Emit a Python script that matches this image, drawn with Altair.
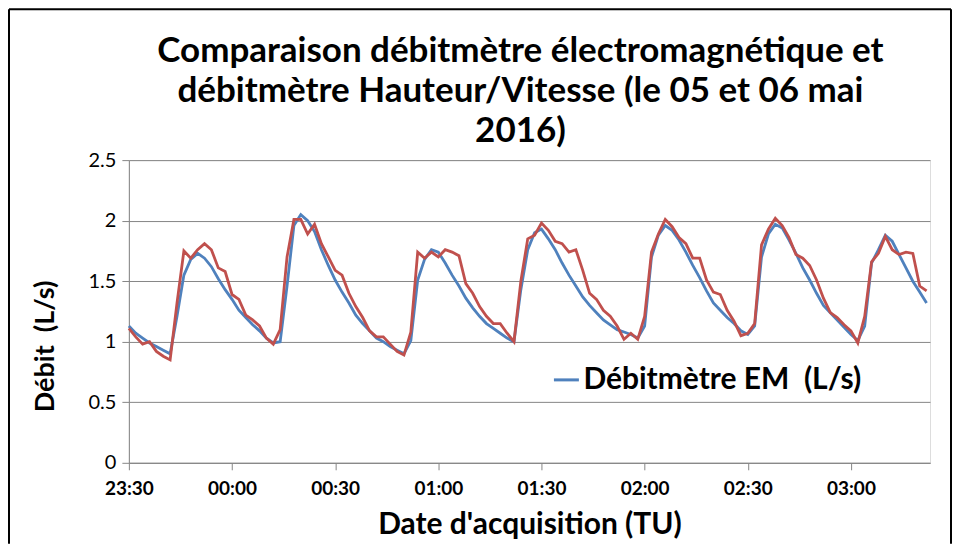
import altair as alt
import pandas as pd

# ---- data (sampling every 2 minutes from 23:30) ----
step_min = 2
em_values = [
    1.13, 1.07, 1.03, 0.99, 0.96, 0.93, 0.90, 1.21, 1.55, 1.68,
    1.73, 1.69, 1.62, 1.52, 1.43, 1.35, 1.26, 1.20, 1.14, 1.09,
    1.03, 0.99, 1.00, 1.46, 1.96, 2.05, 2.00, 1.91, 1.76, 1.63,
    1.51, 1.41, 1.32, 1.22, 1.15, 1.09, 1.03, 1.00, 0.96, 0.93,
    0.90, 1.01, 1.51, 1.68, 1.76, 1.74, 1.65, 1.55, 1.46, 1.36,
    1.28, 1.21, 1.15, 1.11, 1.07, 1.03, 1.00, 1.43, 1.76, 1.90,
    1.93, 1.85, 1.76, 1.65, 1.55, 1.46, 1.37, 1.30, 1.24, 1.18,
    1.14, 1.10, 1.08, 1.06, 1.03, 1.13, 1.70, 1.88, 1.96, 1.92,
    1.84, 1.74, 1.63, 1.53, 1.42, 1.32, 1.26, 1.20, 1.15, 1.09,
    1.06, 1.13, 1.70, 1.89, 1.97, 1.94, 1.84, 1.73, 1.61, 1.51,
    1.40, 1.30, 1.24, 1.18, 1.12, 1.06, 1.01, 1.13, 1.65, 1.76,
    1.88, 1.83, 1.72, 1.61, 1.50, 1.41, 1.32,
]
hv_values = [
    1.11, 1.04, 0.98, 1.00, 0.92, 0.88, 0.85, 1.32, 1.75, 1.69,
    1.76, 1.81, 1.76, 1.61, 1.58, 1.39, 1.35, 1.22, 1.18, 1.13,
    1.03, 0.98, 1.10, 1.70, 2.01, 2.01, 1.89, 1.97, 1.81, 1.70,
    1.59, 1.55, 1.40, 1.29, 1.20, 1.09, 1.04, 1.04, 0.98, 0.92,
    0.89, 1.08, 1.74, 1.69, 1.74, 1.70, 1.76, 1.74, 1.71, 1.48,
    1.40, 1.29, 1.21, 1.15, 1.15, 1.07, 1.00, 1.50, 1.85, 1.88,
    1.98, 1.92, 1.83, 1.81, 1.74, 1.76, 1.59, 1.40, 1.35, 1.26,
    1.21, 1.13, 1.02, 1.07, 1.02, 1.21, 1.74, 1.89, 2.01, 1.95,
    1.86, 1.81, 1.69, 1.69, 1.51, 1.41, 1.39, 1.26, 1.17, 1.05,
    1.07, 1.15, 1.80, 1.93, 2.02, 1.96, 1.86, 1.72, 1.69, 1.63,
    1.51, 1.36, 1.24, 1.20, 1.14, 1.09, 0.99, 1.21, 1.66, 1.73,
    1.87, 1.76, 1.72, 1.74, 1.73, 1.46, 1.42,
]
series_names = ["Débitmètre EM \u00a0(L/s)", "Débitmètre H/V \u00a0(L/s)"]
series_colors = ["#4F81BD", "#C0504D"]
tick_minutes = [0, 30, 60, 90, 120, 150, 180, 210]
tick_labels = ["23:30", "00:00", "00:30", "01:00", "01:30", "02:00", "02:30", "03:00"]
x_end_minute = 233
y_ticks = [0, 0.5, 1, 1.5, 2, 2.5]
title_lines = [
    "Comparaison débitmètre électromagnétique et",
    "débitmètre Hauteur/Vitesse (le 05 et 06 mai",
    "2016)",
]

minutes = [i * step_min for i in range(len(em_values))]
df = pd.DataFrame(
    {
        "minute": minutes * 2,
        "debit": em_values + hv_values,
        "series": [series_names[0]] * len(em_values) + [series_names[1]] * len(hv_values),
    }
)

W, H = 802, 303
FONT = "Lato"

label_expr = (
    "[" + ",".join("'" + s + "'" for s in tick_labels) + "]"
    + "[indexof([" + ",".join(str(m) for m in tick_minutes) + "], datum.value)]"
)

x_enc = alt.X(
    "minute:Q",
    scale=alt.Scale(domain=[0, x_end_minute], nice=False, zero=False),
    axis=alt.Axis(
        values=tick_minutes,
        labelExpr=label_expr,
        labelFlush=False,
        title="Date d'acquisition (TU)",
        grid=False,
        domainColor="#868686",
        tickColor="#868686",
        tickSize=7,
        labelFont=FONT,
        labelFontSize=19,
        labelFontWeight="bold",
        labelColor="#000000",
        labelPadding=10,
        titleFont=FONT,
        titleFontSize=30,
        titleFontWeight="bold",
        titleColor="#000000",
        titlePadding=11,
    ),
)
y_enc = alt.Y(
    "debit:Q",
    scale=alt.Scale(domain=[0, 2.5], nice=False),
    axis=alt.Axis(
        values=y_ticks,
        format=".1~f",
        title="Débit \u00a0(L/s)",
        grid=True,
        gridColor="#868686",
        domainColor="#868686",
        tickColor="#868686",
        tickSize=7,
        labelFont=FONT,
        labelFontSize=20,
        labelColor="#000000",
        labelPadding=6,
        titleFont=FONT,
        titleFontSize=27,
        titleFontWeight="bold",
        titleColor="#000000",
        titlePadding=29,
        titleY=186,
    ),
)
color_enc = alt.Color(
    "series:N",
    scale=alt.Scale(domain=series_names, range=series_colors),
    legend=alt.Legend(
        values=[series_names[0]],
        orient="none",
        legendX=423,
        legendY=205,
        title=None,
        symbolType="stroke",
        symbolSize=625,
        symbolStrokeWidth=3,
        labelFont=FONT,
        labelFontSize=30,
        labelFontWeight="bold",
        labelColor="#000000",
        labelOffset=2,
        labelLimit=500,
        padding=0,
    ),
)

base = alt.Chart(df)
em_line = base.transform_filter(alt.datum.series == series_names[0]).mark_line(strokeWidth=2.8).encode(
    x=x_enc, y=y_enc, color=color_enc
)
hv_line = base.transform_filter(alt.datum.series == series_names[1]).mark_line(strokeWidth=2.8).encode(
    x=x_enc, y=y_enc, color=color_enc
)

frame_data = alt.Data(values=[{}])
frame_left = alt.Chart(frame_data).mark_rule(color="black", strokeWidth=2).encode(
    x=alt.value(-120), y=alt.value(-151), y2=alt.value(384)
)
frame_top = alt.Chart(frame_data).mark_rule(color="black", strokeWidth=2).encode(
    x=alt.value(-120), x2=alt.value(823), y=alt.value(-151)
)
frame_right = alt.Chart(frame_data).mark_rule(color="black", strokeWidth=2).encode(
    x=alt.value(823), y=alt.value(-151), y2=alt.value(384)
)

chart = (
    alt.layer(em_line, hv_line, frame_left, frame_top, frame_right)
    .properties(
        width=W,
        height=H,
        padding=0,
        title=alt.TitleParams(
            text=title_lines,
            font=FONT,
            fontSize=35,
            fontWeight="bold",
            color="#000000",
            lineHeight=40,
            anchor="middle",
            offset=-141,
            dx=-9,
        ),
    )
    .configure_view(stroke=None)
    .configure(background="white")
)

chart.save("out.html", embed_options={"renderer": "svg", "actions": False})
